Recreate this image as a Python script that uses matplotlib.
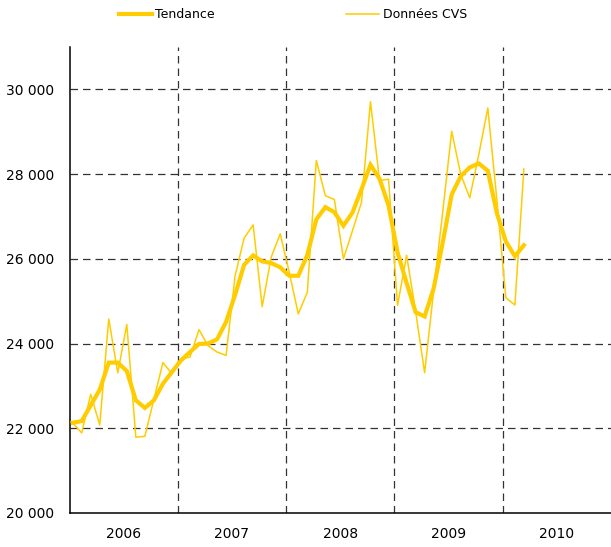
import numpy as np
import matplotlib
matplotlib.use("Agg")
import matplotlib.pyplot as plt

# monthly series, January 2006 -> March 2010
tendance = [22130, 22170, 22540, 22910, 23550, 23550, 23350, 22660, 22480, 22660,
            23050, 23330, 23600, 23800, 23990, 24000, 24100, 24510, 25150, 25860,
            26080, 25940, 25900, 25800, 25600, 25600, 26090, 26930, 27220, 27100,
            26780, 27090, 27640, 28220, 27890, 27260, 26150, 25430, 24740, 24640,
            25300, 26380, 27520, 27950, 28160, 28250, 28080, 27080, 26410, 26060,
            26320]
cvs = [22130, 21890, 22800, 22080, 24580, 23310, 24450, 21790, 21810, 22680,
       23550, 23290, 23640, 23680, 24330, 23950, 23800, 23720, 25600, 26490,
       26800, 24870, 26040, 26590, 25680, 24700, 25210, 28320, 27490, 27400,
       26000, 26660, 27330, 29710, 27850, 27880, 24900, 26085, 24760, 23310,
       25250, 27100, 29010, 27990, 27440, 28460, 29560, 27400, 25080, 24910,
       28120]
years = [2006, 2007, 2008, 2009, 2010]
yticks = [20000, 22000, 24000, 26000, 28000, 30000]

x = 2006 + (np.arange(len(cvs)) + 0.35) / 12
gold = "#FFCC00"

fig = plt.figure(figsize=(6.11, 5.47), dpi=100)
ax = fig.add_axes([69.5 / 611, 1 - 513 / 547, 1 - 69.5 / 611, 466 / 547])

ax.plot(x, tendance, color=gold, lw=3.0, label="Tendance", zorder=3,
        solid_joinstyle="miter")
ax.plot(x, cvs, color=gold, lw=1.1, label="Données CVS", zorder=3)

ax.set_xlim(2006, 2011)
ax.set_ylim(20000, 31000)

grid_kw = dict(color="#333333", lw=0.9, dashes=(6, 4), zorder=1)
for yv in yticks[1:]:
    ax.axhline(yv, **grid_kw)
for yr in years[1:]:
    ax.axvline(yr, **grid_kw)

ax.set_yticks(yticks)
ax.set_yticklabels([f"{v:,}".replace(",", " ") for v in yticks])
ax.set_xticks([])
ax.set_xticks([y + 0.5 for y in years], minor=True)
ax.set_xticklabels([str(y) for y in years], minor=True)
ax.tick_params(axis="both", which="both", length=0, labelsize=10, colors="black")
ax.tick_params(axis="y", pad=11)
ax.tick_params(axis="x", which="minor", pad=10)

for s in ["top", "right"]:
    ax.spines[s].set_visible(False)
for s in ["left", "bottom"]:
    ax.spines[s].set_linewidth(1.1)
    ax.spines[s].set_color("black")

fig.legend(loc="center", bbox_to_anchor=(293 / 611, 1 - 15 / 547), ncol=2,
           frameon=False, fontsize=9, handlelength=2.6, handletextpad=0.3,
           columnspacing=10.5)

fig.savefig("out.png", dpi=100)
